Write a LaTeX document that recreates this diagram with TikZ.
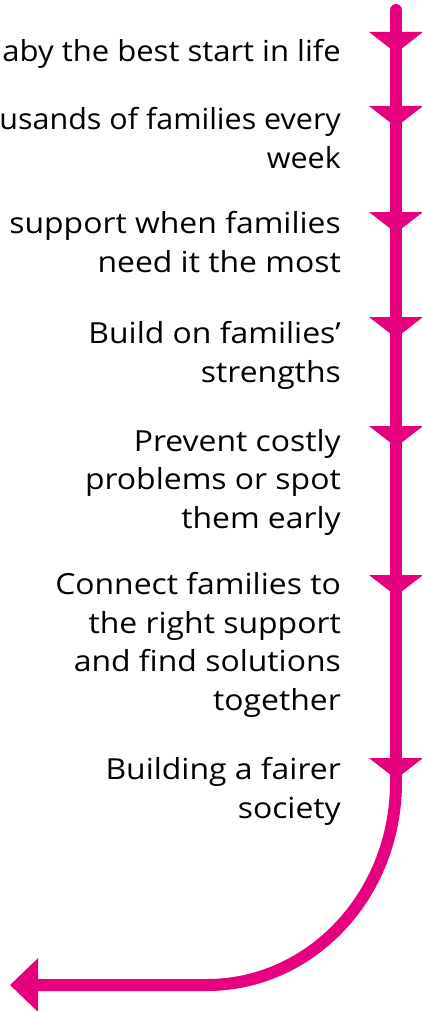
\documentclass[tikz,border=0pt]{standalone}
\usepackage{fontspec}
\setmainfont[FakeStretch=1.1]{Open Sans}
\newfontfamily\tightfont[FakeStretch=1.07]{Open Sans}
\newfontfamily\tighterfont[FakeStretch=1.05]{Open Sans}
\usetikzlibrary{arrows.meta}
\definecolor{brandpink}{RGB}{230,0,126}
\tikzset{
  flow/.style={draw=brandpink, line width=12pt},
  headtri/.style={fill=brandpink},
  label/.style={anchor=base east, align=right, inner sep=0pt, font=\fontsize{29}{38.5}\selectfont, text=black},
  tightlabel/.style={label, font=\tightfont\fontsize{29}{38.5}\selectfont},
  tighterlabel/.style={label, font=\tighterfont\fontsize{29}{38.5}\selectfont},
}
\begin{document}
\begin{tikzpicture}[x=1pt,y=-1pt]
\useasboundingbox (0,0) rectangle (422,1011);
% line geometry
\coordinate (top) at (396,10);
\coordinate (bend) at (396,782);
\coordinate (hz) at (207,985);
\coordinate (endtip) at (10,985);
\draw[flow, line cap=round] (top) -- (bend);
\draw[flow, -{Triangle[width=52pt,length=28pt]}] (bend) .. controls (396,895) and (311,985) .. (hz) -- (endtip);
% arrow heads along the line
\foreach \n/\y in {1/32,2/106,3/212,4/317,5/426,6/575,7/758}{
  \coordinate (a\n) at (396,\y);
  \fill[headtri] (a\n) ++(-27,0) -- ++(54,0) -- ++(-27,21) -- cycle;
}
% labels (anchor = baseline of last line)
\node[tightlabel] (t1) at (341,62) {aby the best start in life};
\node[tighterlabel] (t2) at (341,168) {usands of families every\\week};
\node[label] (t3) at (341,272) {support when families\\need it the most};
\node[label] (t4) at (341,382) {Build on families’\\strengths};
\node[label] (t5) at (341,528) {Prevent costly\\problems or spot\\them early};
\node[label] (t6) at (341,710) {Connect families to\\the right support\\and find solutions\\together};
\node[label] (t7) at (341,818) {Building a fairer\\society};
\end{tikzpicture}
\end{document}
